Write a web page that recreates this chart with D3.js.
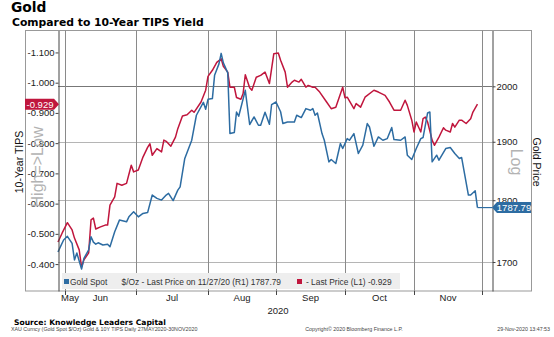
<!DOCTYPE html>
<html>
<head>
<meta charset="utf-8">
<script src="https://d3js.org/d3.v7.min.js"></script>
<style>
  body { margin: 0; background: #fff; }
  svg { display: block; }
  .tick text { font-family: 'Liberation Sans', Arial, sans-serif; font-size: 9.5px; fill: #222; }
  .axis path, .axis line { stroke: #444; }
</style>
</head>
<body>
<svg id="chart" width="554" height="337"></svg>
<script>
// 10-Year TIPS real yield (left axis, inverted)
const tipsDates = ["5/27","5/30","6/2","6/4","6/5","6/7","6/8","6/9","6/11","6/12","6/13","6/14","6/16","6/18","6/19","6/20","6/22","6/23","6/25","6/27","6/29","6/30",
  "7/2","7/4","7/6","7/7","7/8","7/10","7/12","7/13","7/14","7/16","7/18","7/19","7/21","7/23","7/25","7/26","7/29","7/31",
  "8/1","8/3","8/5","8/7","8/8","8/10","8/11","8/13","8/14","8/16","8/17","8/18","8/20","8/21","8/23","8/25","8/27","8/29","8/31",
  "9/2","9/3","9/5","9/6","9/8","9/9","9/11","9/12","9/14","9/15","9/17","9/18","9/20","9/23","9/25","9/27","9/30",
  "10/1","10/2","10/5","10/6","10/8","10/10","10/14","10/16","10/19","10/21","10/23","10/26","10/28","10/29","10/31",
  "11/1","11/2","11/4","11/5","11/6","11/7","11/9","11/10","11/12","11/14","11/15","11/17","11/18","11/19","11/21","11/22","11/24","11/26","11/27","11/29"];
const tipsValues = [-0.473,-0.503,-0.537,-0.513,-0.486,-0.447,-0.390,-0.414,-0.437,-0.546,-0.552,-0.516,-0.523,-0.529,-0.529,-0.595,-0.622,-0.667,-0.661,-0.667,-0.727,-0.705,
  -0.711,-0.754,-0.786,-0.798,-0.760,-0.782,-0.771,-0.810,-0.806,-0.790,-0.820,-0.848,-0.890,-0.894,-0.909,-0.902,-0.936,-0.975,
  -1.021,-1.041,-1.067,-1.079,-1.054,-1.035,-0.985,-0.985,-0.951,-0.945,-0.964,-1.026,-0.983,-0.975,-1.018,-1.024,-1.035,-0.997,-1.096,
  -1.098,-1.074,-1.035,-0.985,-1.002,-1.008,-1.002,-1.011,-0.985,-0.991,-0.985,-0.985,-0.969,-0.936,-0.914,-0.919,-0.985,
  -0.950,-0.952,-0.914,-0.931,-0.919,-0.952,-0.975,-0.969,-0.958,-0.936,-0.909,-0.909,-0.942,-0.925,-0.876,
  -0.837,-0.870,-0.837,-0.881,-0.886,-0.870,-0.810,-0.793,-0.820,-0.851,-0.843,-0.837,-0.865,-0.853,-0.876,-0.876,-0.865,-0.881,-0.903,-0.929];

// Gold spot $/oz (right axis, log)
const goldDates = ["5/27","5/28","5/31","6/2","6/4","6/5","6/6","6/8","6/9","6/11","6/12","6/13","6/14","6/15","6/17","6/19","6/20","6/22","6/24","6/27","6/28","6/30",
  "7/2","7/4","7/6","7/8","7/10","7/12","7/14","7/15","7/17","7/19","7/20","7/22","7/25","7/27","7/30","7/31",
  "8/1","8/3","8/4","8/6","8/7","8/8","8/10","8/11","8/13","8/14","8/15","8/18","8/20","8/22","8/24","8/25","8/27","8/29","8/30",
  "9/1","9/3","9/4","9/6","9/9","9/10","9/12","9/14","9/16","9/17","9/18","9/19","9/21","9/22","9/24","9/25","9/27","9/29","9/30",
  "10/2","10/3","10/5","10/7","10/9","10/11","10/12","10/14","10/16","10/18","10/20","10/22","10/23","10/26","10/28","10/29","10/31",
  "11/2","11/4","11/5","11/7","11/8","11/9","11/11","11/12","11/15","11/17","11/19","11/21","11/22","11/25","11/26","11/28","11/29"];
const goldValues = [1715.8,1720.7,1735.0,1740.9,1729.5,1703.3,1714.2,1689.0,1705.8,1719.0,1740.2,1731.5,1728.3,1730.5,1726.9,1728.0,1724.2,1748.2,1767.2,1764.4,1772.5,1780.8,
  1772.5,1778.2,1779.5,1808.6,1803.0,1800.2,1808.6,1811.4,1799.4,1816.8,1822.4,1870.9,1902.7,1947.2,1970.6,1958.0,
  1976.1,1977.4,2020.4,2042.0,2061.9,2043.9,2025.1,1914.5,1916.5,1953.1,1945.4,1992.6,1930.6,1944.2,1929.3,1929.3,1952.6,1931.0,1966.6,
  1971.2,1953.5,1932.3,1935.2,1935.2,1947.2,1943.0,1959.2,1956.2,1959.2,1947.2,1951.3,1914.5,1902.7,1865.0,1869.1,1862.2,1896.9,1888.2,
  1905.6,1902.7,1914.5,1879.5,1894.0,1932.3,1926.2,1892.2,1908.5,1902.7,1905.6,1925.2,1903.9,1902.7,1908.5,1876.6,1869.1,
  1888.2,1905.6,1907.5,1951.3,1953.1,1865.0,1876.6,1867.8,1888.2,1889.9,1879.5,1870.9,1872.6,1808.6,1808.6,1815.7,1787.79];

const leftTicks = [-1.1, -1.0, -0.9, -0.8, -0.7, -0.6, -0.5, -0.4];
const rightTicks = [1700, 1800, 1900, 2000];
const monthStarts = ["5/27","6/1","7/1","8/1","9/1","10/1","11/1","12/1"];
const monthLabels = ["May","Jun","Jul","Aug","Sep","Oct","Nov"];

const parse = s => d3.timeParse("%m/%d/%Y")(s + "/2020");
const tips = tipsDates.map((d, i) => ({ date: parse(d), value: tipsValues[i] }));
const gold = goldDates.map((d, i) => ({ date: parse(d), value: goldValues[i] }));
const months = monthStarts.map(parse);

const RED = "#c0163d", BLUE = "#2d6ca2";
const FONT = "'Liberation Sans', Arial, sans-serif";
const BOLD = "'DejaVu Sans', Verdana, sans-serif";

const svg = d3.select("#chart");
const plotTop = 30.5, plotBottom = 291, plotLeft = 58, plotRight = 492;

// x: positions anchored on month starts
const x = d3.scaleTime()
  .domain(months)
  .range([58, 65, 136, 208, 276, 345, 414, 482]);
const yL = d3.scaleLinear().domain([-1.1726, -0.311]).range([plotTop, plotBottom]);
const yR = d3.scaleLog().domain([1655, 2106]).range([plotBottom, plotTop]);

// frame
svg.append("rect").attr("x", 25.5).attr("y", plotTop).attr("width", 506).attr("height", plotBottom - plotTop)
  .attr("fill", "none").attr("stroke", "#999");

// horizontal gridlines (gold ticks)
svg.append("g").selectAll("line").data(rightTicks).join("line")
  .attr("x1", plotLeft).attr("x2", plotRight)
  .attr("y1", d => Math.round(yR(d)) + 0.5).attr("y2", d => Math.round(yR(d)) + 0.5)
  .attr("stroke", d => d === 2000 ? "#777" : "#b5b5b5").attr("stroke-width", 1.2);

// vertical month gridlines
svg.append("g").selectAll("line").data(months.slice(1)).join("line")
  .attr("x1", d => Math.round(x(d)) + 0.5).attr("x2", d => Math.round(x(d)) + 0.5)
  .attr("y1", plotTop).attr("y2", plotBottom)
  .attr("stroke", "#8a8a8a").attr("stroke-width", 1);

// legend background
const lg = svg.append("g");
lg.append("rect").attr("x", 62).attr("y", 273).attr("width", 338).attr("height", 16).attr("fill", "#eeeeee");

// lines
const lineL = d3.line().x(d => x(d.date)).y(d => yL(d.value));
const lineR = d3.line().x(d => x(d.date)).y(d => yR(d.value));
const lastGold = gold[gold.length - 1];
const lastTips = tips[tips.length - 1];

svg.append("path").datum(tips).attr("d", lineL)
  .attr("fill", "none").attr("stroke", RED).attr("stroke-width", 1.5).attr("stroke-linejoin", "round");
svg.append("path").datum(gold).attr("d", lineR)
  .attr("fill", "none").attr("stroke", BLUE).attr("stroke-width", 1.5).attr("stroke-linejoin", "round");
svg.append("line")
  .attr("x1", x(lastGold.date)).attr("x2", plotRight)
  .attr("y1", yR(lastGold.value)).attr("y2", yR(lastGold.value))
  .attr("stroke", BLUE).attr("stroke-width", 1.2);

// axes
svg.append("g").attr("class", "axis").attr("transform", `translate(${plotLeft + 0.5},0)`)
  .call(d3.axisLeft(yL).tickValues(leftTicks).tickSize(3).tickSizeOuter(0).tickPadding(1)
    .tickFormat(d => d.toFixed(3)));
svg.append("g").attr("class", "axis").attr("transform", `translate(${plotRight + 0.5},0)`)
  .call(d3.axisRight(yR).tickValues(rightTicks).tickSize(3).tickSizeOuter(0).tickPadding(1)
    .tickFormat(d3.format("d")));
svg.append("g").attr("class", "axis").attr("transform", `translate(0,${plotBottom})`)
  .call(d3.axisBottom(x).tickValues(months.slice(1)).tickSize(4).tickSizeOuter(0).tickFormat(""))
  .call(g => g.select(".domain").remove());

// month labels, centred in each month
svg.append("g").selectAll("text").data(monthLabels).join("text")
  .attr("x", (d, i) => i === 0 ? x(months[0]) + 3 : (x(months[i]) + x(months[i + 1])) / 2)
  .attr("y", 301)
  .attr("text-anchor", (d, i) => i === 0 ? "start" : "middle")
  .attr("font-family", FONT).attr("font-size", "9.5px").attr("fill", "#222")
  .text(d => d);
svg.append("text").attr("x", 278).attr("y", 313.5).attr("text-anchor", "middle")
  .attr("font-family", FONT).attr("font-size", "9.5px").attr("fill", "#222").text("2020");

// axis titles
svg.append("text").attr("transform", "translate(23,162) rotate(-90)").attr("text-anchor", "middle")
  .attr("font-family", FONT).attr("font-size", "10.5px").attr("fill", "#111").text("10-Year TIPS");
svg.append("text").attr("transform", "translate(43,167) rotate(-90)").attr("text-anchor", "middle")
  .attr("font-family", FONT).attr("font-size", "16px").attr("fill", "#b3b3b3").text("High=>Low");
svg.append("text").attr("transform", "translate(533,162) rotate(90)").attr("text-anchor", "middle")
  .attr("font-family", FONT).attr("font-size", "10.5px").attr("fill", "#111").text("Gold Price");
svg.append("text").attr("transform", "translate(511,162) rotate(90)").attr("text-anchor", "middle")
  .attr("font-family", FONT).attr("font-size", "16px").attr("fill", "#b3b3b3").text("Log");

// last-value tags
const ty = yL(lastTips.value);
svg.append("path")
  .attr("d", `M25,${ty - 5.5}H54L59,${ty}L54,${ty + 5.5}H25Z`).attr("fill", RED);
svg.append("text").attr("x", 40).attr("y", ty + 3.4).attr("text-anchor", "middle")
  .attr("font-family", FONT).attr("font-size", "9.5px").attr("fill", "#fff").text(lastTips.value.toFixed(3));
const gy = yR(lastGold.value);
svg.append("path")
  .attr("d", `M492,${gy}L497,${gy - 5.5}H531V${gy + 5.5}H497Z`).attr("fill", BLUE);
svg.append("text").attr("x", 514).attr("y", gy + 3.4).attr("text-anchor", "middle")
  .attr("font-family", FONT).attr("font-size", "9.5px").attr("fill", "#fff").text(lastGold.value.toFixed(2));

// legend
lg.append("rect").attr("x", 64).attr("y", 279).attr("width", 5).attr("height", 5).attr("fill", BLUE);
lg.append("text").attr("x", 70).attr("y", 284.5).attr("font-family", FONT).attr("font-size", "8.4px").attr("fill", "#333")
  .text("Gold Spot");
lg.append("text").attr("x", 121.5).attr("y", 284.5).attr("font-family", FONT).attr("font-size", "8.4px").attr("fill", "#333")
  .text(`$/Oz - Last Price on 11/27/20 (R1) ${lastGold.value.toFixed(2)}`);
lg.append("rect").attr("x", 297).attr("y", 279).attr("width", 5).attr("height", 5).attr("fill", RED);
lg.append("text").attr("x", 306).attr("y", 284.5).attr("font-family", FONT).attr("font-size", "8.4px").attr("fill", "#333")
  .text(`- Last Price (L1) ${lastTips.value.toFixed(3)}`);

// titles
svg.append("text").attr("x", 11).attr("y", 11.5).attr("font-family", BOLD).attr("font-weight", "bold")
  .attr("font-size", "13.8px").attr("fill", "#000").text("Gold");
svg.append("text").attr("x", 12).attr("y", 25.8).attr("font-family", BOLD).attr("font-weight", "bold")
  .attr("font-size", "10.8px").attr("fill", "#000").text("Compared to 10-Year TIPS Yield");
svg.append("text").attr("x", 14).attr("y", 325).attr("font-family", BOLD).attr("font-weight", "bold")
  .attr("font-size", "7.6px").attr("fill", "#000").text("Source: Knowledge Leaders Capital");

// footer
const foot = [
  { x: 11, anchor: "start", t: "XAU Curncy (Gold Spot   $/Oz) Gold & 10Y TIPS  Daily 27MAY2020-30NOV2020" },
  { x: 354, anchor: "middle", t: "Copyright\u00a9 2020 Bloomberg Finance L.P." },
  { x: 550, anchor: "end", t: "29-Nov-2020 13:47:53" }
];
svg.append("g").selectAll("text").data(foot).join("text")
  .attr("x", d => d.x).attr("y", 331).attr("text-anchor", d => d.anchor)
  .attr("font-family", FONT).attr("font-size", "5.3px").attr("fill", "#444")
  .text(d => d.t);
</script>
</body>
</html>
